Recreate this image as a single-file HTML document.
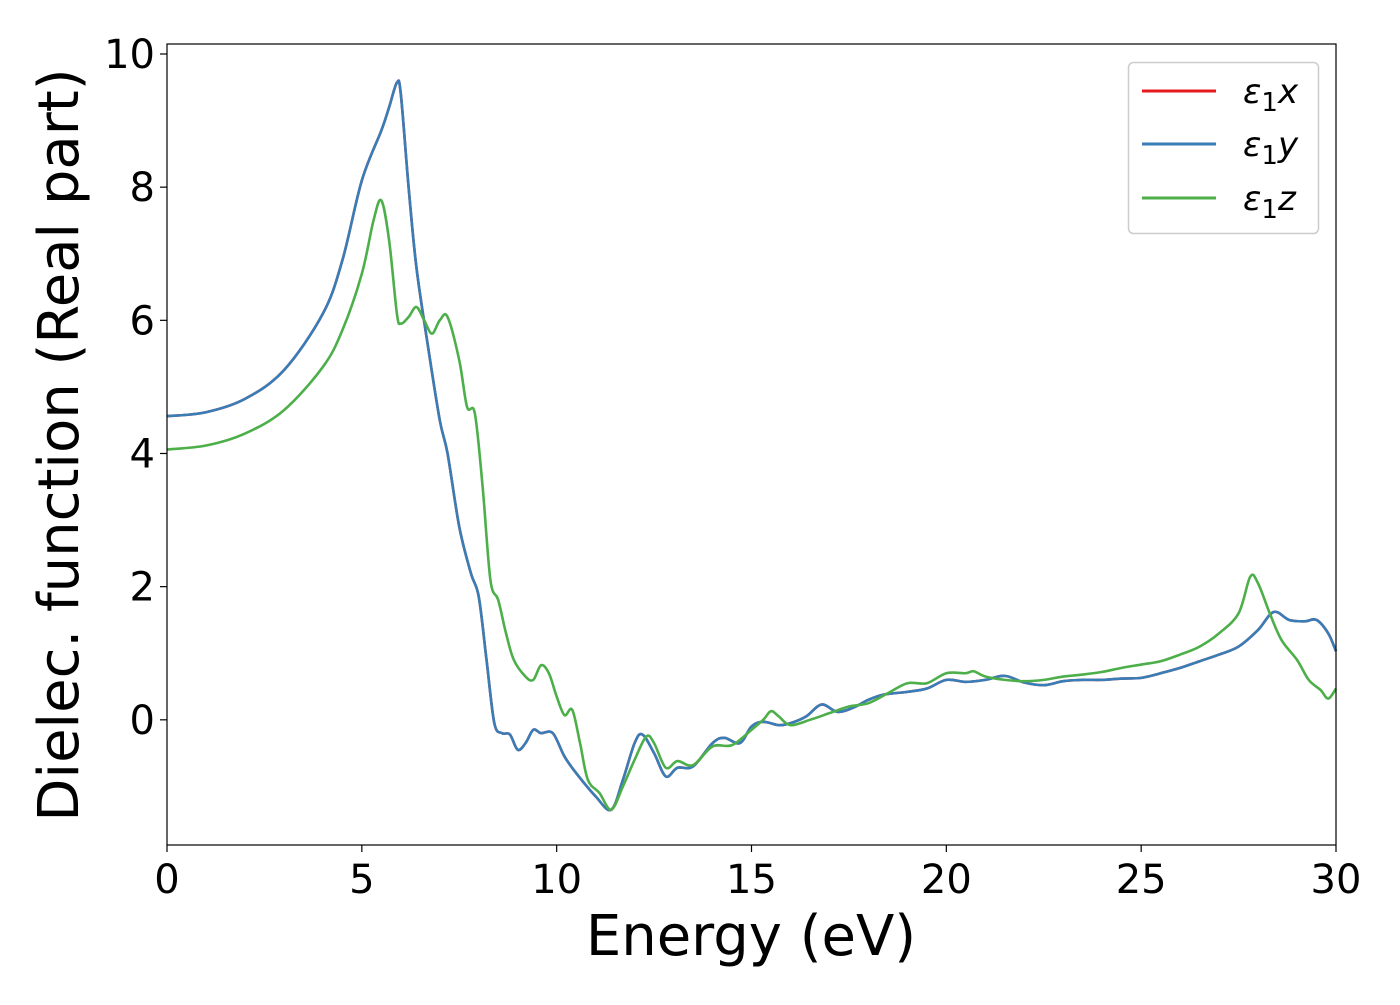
<!DOCTYPE html>
<html><head><meta charset="utf-8"><style>
body{margin:0;background:#fff;}
svg text{font-family:"DejaVu Sans","Liberation Sans",sans-serif;fill:#000;}
</style></head><body>
<svg id="chart" width="1400" height="1000" xmlns="http://www.w3.org/2000/svg">
<rect x="0" y="0" width="1400" height="1000" fill="#fff"/>
<g id="plot"></g>
<g id="axes"></g>
<text x="751" y="955" font-size="56" text-anchor="middle">Energy (eV)</text>
<text transform="translate(78,445) rotate(-90)" font-size="56" text-anchor="middle">Dielec. function (Real part)</text>
<g>
<rect x="1128.5" y="62.5" width="190" height="171" rx="5" fill="#fff" stroke="#ccc" stroke-width="1.5"/>
<line x1="1142" y1="91" x2="1216" y2="91" stroke="#e41a1c" stroke-width="3"/>
<text x="1243" y="103" font-size="34" font-style="italic">ε<tspan font-style="normal" font-size="26" dy="8">1</tspan><tspan dy="-8">x</tspan></text>
<line x1="1142" y1="144" x2="1216" y2="144" stroke="#377eb8" stroke-width="3"/>
<text x="1243" y="156" font-size="34" font-style="italic">ε<tspan font-style="normal" font-size="26" dy="8">1</tspan><tspan dy="-8">y</tspan></text>
<line x1="1142" y1="198" x2="1216" y2="198" stroke="#4daf4a" stroke-width="3"/>
<text x="1243" y="210" font-size="34" font-style="italic">ε<tspan font-style="normal" font-size="26" dy="8">1</tspan><tspan dy="-8">z</tspan></text>
</g>
</svg>
<script>
const energyXY=[0,1,2,3,4,4.5,5,5.5,5.7,5.9,6.0,6.2,6.4,6.7,7.0,7.2,7.5,7.8,8.0,8.2,8.4,8.6,8.8,9.0,9.2,9.4,9.6,9.9,10.2,10.5,11.0,11.4,11.7,12.0,12.2,12.5,12.8,13.1,13.5,14.0,14.3,14.7,15.0,15.3,15.7,16.0,16.4,16.8,17.2,17.6,18.0,18.4,19.0,19.5,20.0,20.5,21.0,21.5,22.0,22.5,23.0,23.5,24.0,24.5,25.0,25.5,26.0,26.5,27.0,27.5,28.0,28.4,28.8,29.2,29.5,29.8,30];
const epsX=[4.56,4.62,4.82,5.25,6.1,6.9,8.1,8.85,9.2,9.57,9.4,8.0,6.8,5.6,4.5,4.0,2.9,2.2,1.85,0.9,-0.05,-0.2,-0.22,-0.45,-0.35,-0.15,-0.2,-0.2,-0.55,-0.8,-1.15,-1.35,-0.9,-0.35,-0.22,-0.5,-0.85,-0.72,-0.7,-0.35,-0.27,-0.35,-0.1,-0.03,-0.08,-0.05,0.05,0.23,0.12,0.18,0.3,0.38,0.42,0.47,0.6,0.57,0.6,0.66,0.56,0.52,0.58,0.6,0.6,0.62,0.63,0.7,0.78,0.88,0.98,1.1,1.35,1.62,1.5,1.48,1.5,1.3,1.03];
const epsY=epsX.slice();
const energyZ=[0,1,2,3,4,4.5,5.0,5.3,5.5,5.7,5.9,6.0,6.2,6.4,6.6,6.8,7.0,7.2,7.5,7.7,7.9,8.1,8.3,8.5,8.7,8.9,9.2,9.4,9.6,9.8,10.0,10.2,10.4,10.6,10.8,11.1,11.4,11.7,12.0,12.3,12.5,12.8,13.1,13.5,14.0,14.5,15.0,15.3,15.5,15.7,16.0,16.5,17.0,17.5,18.0,18.5,19.0,19.5,20.0,20.5,20.7,21.0,21.5,22.0,22.5,23.0,23.5,24.0,24.5,25.0,25.5,26.0,26.5,27.0,27.5,27.8,28.0,28.3,28.6,29.0,29.3,29.6,29.8,30];
const epsZ=[4.06,4.12,4.3,4.65,5.3,5.85,6.7,7.5,7.8,7.2,6.1,5.95,6.05,6.2,6.0,5.8,6.0,6.05,5.4,4.7,4.6,3.5,2.1,1.8,1.3,0.9,0.65,0.6,0.82,0.7,0.35,0.07,0.15,-0.35,-0.9,-1.1,-1.35,-1.0,-0.6,-0.25,-0.35,-0.72,-0.62,-0.68,-0.4,-0.38,-0.15,0.0,0.13,0.05,-0.08,0.0,0.1,0.2,0.25,0.4,0.55,0.55,0.7,0.7,0.73,0.65,0.6,0.58,0.6,0.65,0.68,0.72,0.78,0.83,0.88,0.98,1.1,1.3,1.6,2.15,2.05,1.6,1.2,0.9,0.6,0.45,0.32,0.47];
const xTicks=[0,5,10,15,20,25,30];
const yTicks=[0,2,4,6,8,10];
const L=167,R=1336,T=44,B=845,xMin=0,xMax=30,yMin=-1.88,yMax=10.15;
const sx=v=>L+(v-xMin)/(xMax-xMin)*(R-L);
const sy=v=>B-(v-yMin)/(yMax-yMin)*(B-T);
const NS='http://www.w3.org/2000/svg';
const plot=document.getElementById('plot'),axes=document.getElementById('axes');
function smoothPath(xs,ys){
  const p=xs.map((x,i)=>[sx(x),sy(ys[i])]);
  let d='M'+p[0][0].toFixed(2)+','+p[0][1].toFixed(2);
  for(let i=0;i<p.length-1;i++){
    const p0=p[Math.max(0,i-1)],p1=p[i],p2=p[i+1],p3=p[Math.min(p.length-1,i+2)];
    const c1=[p1[0]+(p2[0]-p0[0])/6,p1[1]+(p2[1]-p0[1])/6];
    const c2=[p2[0]-(p3[0]-p1[0])/6,p2[1]-(p3[1]-p1[1])/6];
    d+=' C'+c1[0].toFixed(2)+','+c1[1].toFixed(2)+' '+c2[0].toFixed(2)+','+c2[1].toFixed(2)+' '+p2[0].toFixed(2)+','+p2[1].toFixed(2);
  }
  return d;
}
function addLine(xs,ys,color,name){
  const el=document.createElementNS(NS,'path');
  el.setAttribute('d',smoothPath(xs,ys));
  el.setAttribute('fill','none');el.setAttribute('stroke',color);el.setAttribute('stroke-width','2.6');
  
  
  plot.appendChild(el);
}
addLine(energyXY,epsX,'#e41a1c','line-eps1-x');
addLine(energyXY,epsY,'#377eb8','line-eps1-y');
addLine(energyZ,epsZ,'#4daf4a','line-eps1-z');
const frame=document.createElementNS(NS,'rect');
frame.setAttribute('x',L);frame.setAttribute('y',T);frame.setAttribute('width',R-L);frame.setAttribute('height',B-T);
frame.setAttribute('fill','none');frame.setAttribute('stroke','#000');frame.setAttribute('stroke-width','1.2');


axes.appendChild(frame);
xTicks.forEach(t=>{
  const ln=document.createElementNS(NS,'line');
  ln.setAttribute('x1',sx(t));ln.setAttribute('x2',sx(t));ln.setAttribute('y1',B);ln.setAttribute('y2',B+7);ln.setAttribute('stroke','#000');ln.setAttribute('stroke-width','1.2');
  
  
  axes.appendChild(ln);
  const tx=document.createElementNS(NS,'text');
  tx.setAttribute('x',sx(t));tx.setAttribute('y',B+48);tx.setAttribute('font-size','40');tx.setAttribute('text-anchor','middle');tx.textContent=t;
  
  
  axes.appendChild(tx);
});
yTicks.forEach(t=>{
  const ln=document.createElementNS(NS,'line');
  ln.setAttribute('x1',L-7);ln.setAttribute('x2',L);ln.setAttribute('y1',sy(t));ln.setAttribute('y2',sy(t));ln.setAttribute('stroke','#000');ln.setAttribute('stroke-width','1.2');
  
  
  axes.appendChild(ln);
  const tx=document.createElementNS(NS,'text');
  tx.setAttribute('x',L-12);tx.setAttribute('y',sy(t)+14);tx.setAttribute('font-size','40');tx.setAttribute('text-anchor','end');tx.textContent=t;
  
  
  axes.appendChild(tx);
});
</script>
</body></html>
